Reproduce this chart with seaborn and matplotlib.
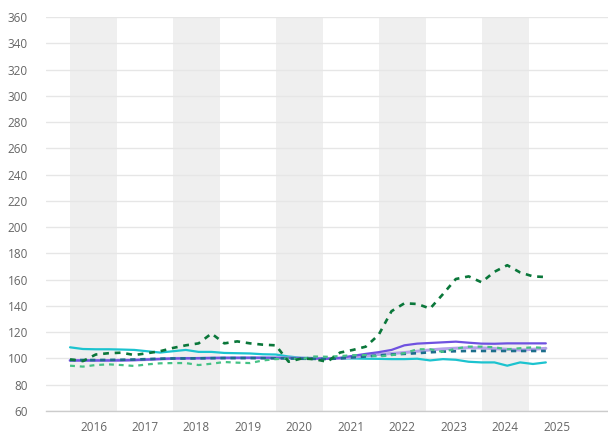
import matplotlib
matplotlib.use("Agg")
import matplotlib.pyplot as plt
import seaborn as sns
import numpy as np

# quarterly points, Jan 2016 .. Apr 2025 (month index from Jan 2016)
months = list(range(0, 112, 3))

cyan = [108.5, 107.2, 107, 107, 106.8, 106.5, 105.5, 104.5, 105.5, 106.5,
        105, 105, 104.2, 104, 103.8, 103.2, 103, 101.5, 100.5, 100.3,
        100, 100, 100, 99.8, 99.7, 99.5, 99.5, 99.8, 98.5, 99.5,
        99, 97.5, 97, 97, 94.5, 97, 95.8, 97]
lavender = [98.5, 98.5, 98.5, 98.5, 98.6, 98.8, 99.2, 99.6, 100, 100,
            100, 100.2, 100.3, 100.4, 100.5, 100.5, 100.4, 100.3, 100.2, 100,
            100, 100, 101, 102, 103, 103.8, 104.5, 105.5, 106.5, 107.3,
            107.8, 108.2, 108, 107.5, 107, 106.4, 107, 107.7]
purple = [98.5, 98.5, 98.5, 98.5, 98.6, 98.8, 99.2, 99.6, 100, 100.2,
          100.3, 100.4, 100.5, 100.5, 100.5, 100.5, 100.5, 100.4, 100.2, 100,
          99.8, 100.5, 102, 103.5, 104.8, 106.5, 110, 111.3, 111.8, 112.3,
          112.8, 112, 111.3, 111.2, 111.5, 111.5, 111.5, 111.5]
navy = [98.8, 98.8, 98.8, 98.9, 99, 99.2, 99.5, 99.8, 100, 100,
        100.1, 100.2, 100.3, 100.3, 100.3, 100.2, 100.1, 100, 99.8, 99.7,
        99.6, 100, 100.8, 101.5, 102.3, 103, 103.5, 104, 104.7, 105.2,
        105.5, 105.7, 105.7, 105.7, 105.7, 105.7, 105.7, 105.7]
lightgreen = [94.5, 93.8, 95, 95.5, 95, 94.3, 95.5, 96.3, 96.5, 96.5,
              95, 96, 97.3, 96.8, 96.5, 98.5, 99.5, 100, 99.5, 101.5,
              101.3, 101.8, 102.5, 102.6, 101.5, 102.5, 104, 107, 107, 105,
              107.5, 109, 109, 108.5, 107, 107.8, 108.5, 108]
darkgreen = [99.3, 98, 103, 104, 104.4, 102.6, 104, 105.5, 108, 110,
             111.5, 119, 111.5, 113, 111.5, 110.5, 110, 97.5, 100, 99.5,
             97.5, 104.5, 106.5, 109, 118, 136, 142, 141.5, 138, 149,
             160.5, 162.5, 158, 166, 171, 165.5, 162.5, 162]

years = list(range(2016, 2026))
yticks = list(range(60, 361, 20))

sns.set_style("white")
plt.rcParams["font.family"] = ["Open Sans", "DejaVu Sans"]

fig = plt.figure(figsize=(6.08, 4.37), dpi=100)
ax = fig.add_axes([0.0757, 0.0595, 0.9243, 0.9016])

# shaded even years
for y in range(2016, 2026, 2):
    start = (y - 2016) * 12
    ax.axvspan(start, start + 11, color="#efefef", lw=0, zorder=0)

for v in yticks:
    ax.axhline(v, color="#e6e6e6", lw=1, zorder=1)

sns.lineplot(x=months, y=cyan, color="#1cc3cf", lw=1.6, ax=ax, zorder=3)
sns.lineplot(x=months, y=lavender, color="#b5a3ea", lw=2.2, ax=ax, zorder=3)
sns.lineplot(x=months, y=purple, color="#6f52e0", lw=1.6, ax=ax, zorder=4)
sns.lineplot(x=months, y=navy, color="#1d6e8c", lw=1.9, ax=ax, zorder=5,
             linestyle=(0, (2, 1.8)))
sns.lineplot(x=months, y=lightgreen, color="#45c285", lw=1.6, ax=ax, zorder=5,
             linestyle=(0, (2.2, 2.2)))
sns.lineplot(x=months, y=darkgreen, color="#0a773a", lw=1.9, ax=ax, zorder=6,
             linestyle=(0, (2.2, 2.2)))

ax.set_xlim(-5.6, 125.5)
ax.set_ylim(60, 360)
ax.set_yticks(yticks)
ax.set_yticklabels([str(v) for v in yticks])
ax.set_xticks([(y - 2016) * 12 + 5.5 for y in years])
ax.set_xticklabels([str(y) for y in years])
ax.tick_params(axis="y", length=0, pad=13, labelsize=8.5, labelcolor="#666666")
ax.tick_params(axis="x", length=4, width=0.8, color="#cccccc", pad=3,
               labelsize=8.5, labelcolor="#666666")
for s in ["top", "right", "left"]:
    ax.spines[s].set_visible(False)
ax.spines["bottom"].set_color("#cccccc")
ax.spines["bottom"].set_linewidth(1)

fig.savefig("out.png", dpi=100)
